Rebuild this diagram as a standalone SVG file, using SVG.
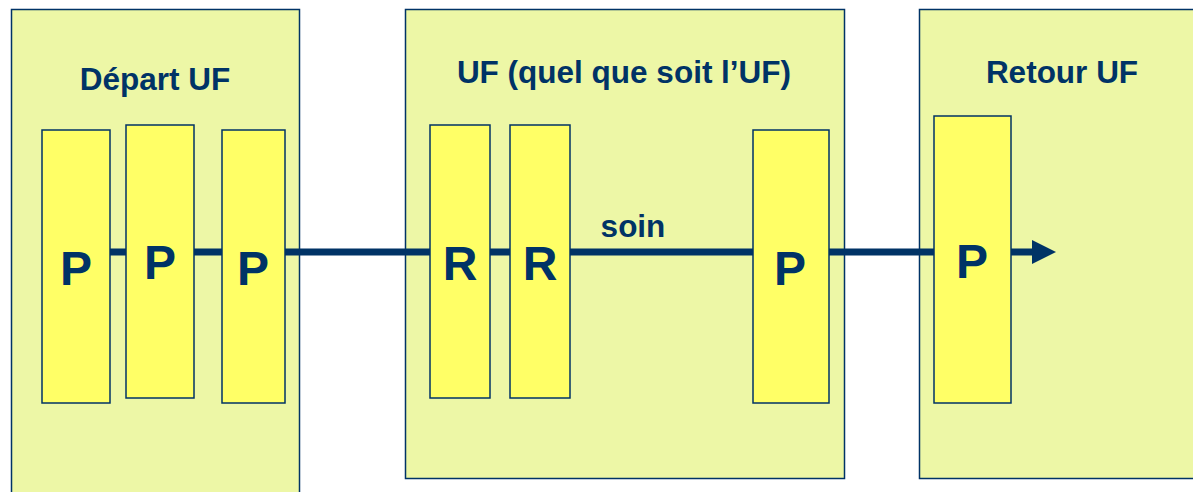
<svg xmlns="http://www.w3.org/2000/svg" width="1193" height="492" viewBox="0 0 1193 492">
<style>
.zone{fill:#EDF7A6;stroke:#003366;stroke-width:1.5}
.step{fill:#FFFF66;stroke:#003366;stroke-width:1.5}
.title{font-family:"Liberation Sans",Arial,sans-serif;font-weight:bold;font-size:31.5px;fill:#003366;text-anchor:middle}
.big{font-family:"Liberation Sans",Arial,sans-serif;font-weight:bold;font-size:48px;fill:#003366;text-anchor:middle}
.flow{stroke:#003366;stroke-width:7;fill:none}
</style>
<defs>
<marker id="arr" markerUnits="userSpaceOnUse" markerWidth="24" markerHeight="24" refX="0" refY="12" orient="auto">
<path d="M0,0 L24,12 L0,24 Z" fill="#003366"/>
</marker>
</defs>
<rect width="1193" height="492" fill="#FFFFFF"/>
<g id="zone-depart"><rect class="zone" x="11.5" y="9.5" width="288" height="500"/><text class="title" x="155" y="90">Départ UF</text></g>
<g id="zone-uf"><rect class="zone" x="405.5" y="9.5" width="439" height="469"/><text class="title" x="624" y="83">UF (quel que soit l’UF)</text></g>
<g id="zone-retour"><rect class="zone" x="919.5" y="9.5" width="290" height="469"/><text class="title" x="1062" y="83">Retour UF</text></g>
<g id="connectors">
<line class="flow" x1="110" y1="252" x2="1032" y2="252" marker-end="url(#arr)"/>
<text class="title" x="633" y="237">soin</text>
</g>
<g id="p1"><rect class="step" x="42" y="130" width="68" height="273"/><text class="big" x="76" y="285">P</text></g>
<g id="p2"><rect class="step" x="126" y="125" width="68" height="273"/><text class="big" x="160" y="279">P</text></g>
<g id="p3"><rect class="step" x="222" y="130" width="63" height="273"/><text class="big" x="253" y="285">P</text></g>
<g id="r1"><rect class="step" x="430" y="125" width="60" height="273"/><text class="big" x="460" y="280">R</text></g>
<g id="r2"><rect class="step" x="510" y="125" width="60" height="273"/><text class="big" x="540" y="280">R</text></g>
<g id="p4"><rect class="step" x="753" y="130" width="76" height="273"/><text class="big" x="790" y="285">P</text></g>
<g id="p5"><rect class="step" x="934" y="116" width="77" height="287"/><text class="big" x="972" y="278">P</text></g>
</svg>
